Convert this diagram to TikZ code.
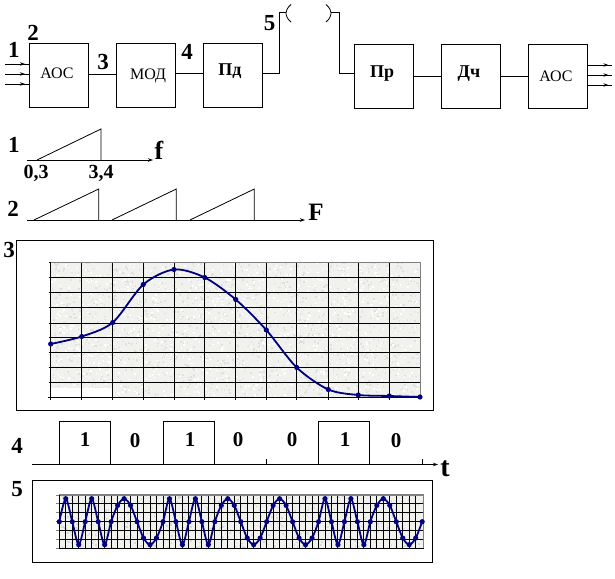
\documentclass[tikz,border=0pt]{standalone}
\usepackage{fontspec}
\setmainfont{Liberation Serif}
\usetikzlibrary{arrows.meta,decorations.markings}
\definecolor{plotblue}{HTML}{000080}
\definecolor{paper}{HTML}{F1F1EE}
\tikzset{
  blockbox/.style={draw=black,line width=1pt,minimum width=59pt,minimum height=63pt,inner sep=0pt},
  plainname/.style={font=\fontsize{16}{16}\selectfont,inner sep=0pt},
  boldname/.style={font=\fontsize{18}{18}\selectfont\bfseries,inner sep=0pt},
  wire/.style={draw=black,line width=1pt},
  thin wire/.style={draw=black,line width=0.8pt},
  midarrow/.style={wire,postaction={decorate},decoration={markings,mark=at position 0.85 with {\arrow{Stealth[length=5pt,width=3.5pt]}}}},
  axisarrow/.style={wire,-{Stealth[length=5pt,width=3.5pt]}},
  numlabel/.style={font=\fontsize{23}{23}\selectfont\bfseries,inner sep=0pt},
  ticklabel/.style={font=\fontsize{20}{20}\selectfont\bfseries,inner sep=0pt},
  bitlabel/.style={font=\fontsize{21}{21}\selectfont\bfseries,inner sep=0pt},
  gridline/.style={draw=black,line width=0.9pt},
  curve/.style={draw=plotblue,line width=1.8pt},
  panel/.style={draw=black,line width=1pt},
}
\begin{document}
\begin{tikzpicture}[x=1pt,y=-1pt]
\useasboundingbox[fill=white] (0,0) rectangle (615,578);
% ---- block chain
\node[blockbox] (aos1) at (58.5,75.5) {};
\node[blockbox] (mod) at (145.5,75.5) {};
\node[blockbox] (pd) at (232.5,75.5) {};
\node[blockbox] (pr) at (384,76.5) {};
\node[blockbox] (dch) at (471,76.5) {};
\node[blockbox] (aos2) at (558,76.5) {};
\node[plainname] (aos1t) at (57,73) {АОС};
\node[plainname] (modt) at (148,76) {МОД};
\node[boldname] (pdt) at (230,71) {Пд};
\node[boldname] (prt) at (382,74) {Пр};
\node[boldname] (dcht) at (469,74) {Дч};
\node[plainname] (aos2t) at (556,76) {АОС};
\coordinate (i1) at (5,64); \coordinate (i2) at (5,74); \coordinate (i3) at (5,84);
\coordinate (o1) at (612,65); \coordinate (o2) at (612,75); \coordinate (o3) at (612,85);
\foreach \n in {i1,i2,i3} \draw[midarrow] (\n) -- (aos1.west |- \n);
\foreach \n in {o1,o2,o3} \draw[midarrow] (aos2.east |- \n) -- (\n);
\draw[wire] (aos1.east |- 0,74) -- (mod.west |- 0,74);
\draw[wire] (mod.east |- 0,73) -- (pd.west |- 0,73);
\coordinate (c1) at (279,73); \coordinate (antL) at (286,13);
\coordinate (antR) at (331,13); \coordinate (c2) at (339.5,73);
\draw[wire] (pd.east |- c1) -- (c1) |- (antL);
\draw[wire] (antR) -| (c2) -- (pr.west |- c2);
\draw[wire] (pr.east |- 0,76) -- (dch.west |- 0,76);
\draw[wire] (dch.east |- 0,76) -- (aos2.west |- 0,76);
\draw[thin wire] (291,4.5) .. controls (287,8) and (286,11) .. (antL) .. controls (286,15) and (287,19) .. (291,22);
\draw[thin wire] (326,4.5) .. controls (330,8) and (331,11) .. (antR) .. controls (331,15) and (330,19) .. (326,22);
\node[numlabel] (n1) at (14,50) {1};
\node[numlabel] (n2) at (33,33) {2};
\node[numlabel] (n3) at (103,62) {3};
\node[numlabel] (n4) at (187,52) {4};
\node[numlabel] (n5) at (269.5,23.5) {5};
% ---- spectrum 1
\draw[axisarrow] (27,160) -- (153,160);
\draw[thin wire] (37,160) -- (101,129) -- (101,160);
\node[numlabel] (s1) at (14,145) {1};
\node[numlabel,font=\fontsize{26}{26}\selectfont\bfseries] (sf) at (159,150) {f};
\node[ticklabel] (l03) at (36,173) {0,3};
\node[ticklabel] (l34) at (101,173) {3,4};
% ---- spectrum 2
\draw[axisarrow] (27,220) -- (305,220);
\foreach \a/\b in {34/98.7,112/176.3,190/254.3}
  \draw[thin wire] (\a,220) -- (\b,189) -- (\b,220);
\node[numlabel] (s2) at (13,209) {2};
\node[numlabel,font=\fontsize{25}{25}\selectfont\bfseries] (sF) at (316,212) {F};
% ---- panel 3
\node[numlabel] (s3) at (9,250) {3};
\draw[panel] (16.5,240.5) rectangle (433,410);
\fill[paper] (50.7,262.3) rectangle (420,397.3);
\pgfmathsetseed{11}
\begin{scope}
\clip (50.7,262.3) rectangle (420,397.3);
\foreach \i in {1,...,1500}{
  \pgfmathsetmacro\px{50.7+369.3*rnd}\pgfmathsetmacro\py{262.3+135*rnd}
  \fill[black!12] (\px,\py) rectangle +(1.6,1.6);
}
\foreach \i in {1,...,1200}{
  \pgfmathsetmacro\px{50.7+369.3*rnd}\pgfmathsetmacro\py{262.3+135*rnd}
  \fill[white] (\px,\py) rectangle +(1.6,1.6);
}
\end{scope}
\fill[white] (51,388) rectangle (112.5,397);
\foreach \y in {277.3,292.3,307,323.3,337.3,352.3,367.3,382}
  \draw[gridline] (50.7,\y) -- (420,\y);
\foreach \x in {81.7,112.7,143.3,174,204.7,235.7,266.3,296.7,328.3,358.3,389.3}
  \draw[gridline] (\x,262.3) -- (\x,399.5);
\draw[gray,line width=1pt] (50.7,262.3) -- (420,262.3) -- (420,397.3);
\draw[gridline] (48,397.3) -- (420,397.3);
\draw[gridline] (50.7,262.3) -- (50.7,399.5);
\foreach \y in {262.3,277.3,292.3,307,323.3,337.3,352.3,367.3,382}
  \draw[gridline] (48.5,\y) -- (50.7,\y);
\foreach \k in {0,...,45}
  \draw[black,line width=0.6pt] (49.5,262.3+3*\k) -- (50.7,262.3+3*\k);
\draw[curve] plot[smooth,tension=0.5] coordinates {(50.7,344) (81.7,336.5) (112.7,322.5) (143.3,284.5) (174,269.5) (204.7,277.5) (235.7,299.5) (266.3,330) (296.7,367.5) (328.3,389.5) (358.3,395) (389.3,396) (420,397)};
\foreach \x/\y in {50.7/344,81.7/336.5,112.7/322.5,143.3/284.5,174/269.5,204.7/277.5,235.7/299.5,266.3/330,296.7/367.5,328.3/389.5,358.3/395,389.3/396,420/397}
  \fill[plotblue] (\x,\y) circle (2.6);
% ---- bit stream
\node[numlabel] (s4) at (17,446) {4};
\coordinate (b0) at (32,464.5); \coordinate (b1) at (438,464.5);
\draw[axisarrow] (b0) -- (b1);
\foreach \a/\b in {59.5/110.5,163.5/214.5,318.3/369.3}
  \draw[wire] (\a,464.5) -- (\a,421.5) -- (\b,421.5) -- (\b,464.5);
\draw[wire] (266.3,459) -- (266.3,464.5);
\draw[wire] (422.3,459) -- (422.3,464.5);
\node[bitlabel] (b10) at (85,440) {1};
\node[bitlabel] (b20) at (135,441) {0};
\node[bitlabel] (b30) at (190,440) {1};
\node[bitlabel] (b40) at (238,440) {0};
\node[bitlabel] (b50) at (292,440) {0};
\node[bitlabel] (b60) at (345,440) {1};
\node[bitlabel] (b70) at (396,441) {0};
\node[numlabel,font=\fontsize{28}{28}\selectfont\bfseries] (st) at (445,469) {t};
% ---- panel 5
\node[numlabel] (s5) at (17,489) {5};
\draw[panel] (32.5,480.5) rectangle (432.5,562);
\fill[paper] (59.3,495) rectangle (423.5,548.3);
\begin{scope}
\clip (59.3,495) rectangle (423.5,548.3);
\foreach \i in {1,...,500}{
  \pgfmathsetmacro\px{59.3+364*rnd}\pgfmathsetmacro\py{495+53*rnd}
  \fill[black!15] (\px,\py) rectangle +(1.6,1.6);
}
\end{scope}
\foreach \y in {503.7,512.7,521.7,530.3,539}
  \draw[gridline] (59.3,\y) -- (423.5,\y);
\foreach \k in {1,...,55}
  \draw[gridline] (59.3+6.48*\k,495) -- (59.3+6.48*\k,548.3);
\draw[gray,line width=1.2pt] (59.3,495) -- (423.5,495) -- (423.5,548.3);
\draw[gridline] (59.3,548.3) -- (423.5,548.3);
\draw[gridline] (59.3,495) -- (59.3,548.3);
\foreach \y in {495,503.7,512.7,521.7,530.3,539,548.3}
  \draw[gray,line width=0.8pt] (56,\y) -- (59.3,\y);
\def\wv{{0,1,0,-1,0,1,0,-1, 0,.71,1,.71,0,-.71,-1,-.71, 0,1,0,-1,0,1,0,-1, 0,.71,1,.71,0,-.71,-1,-.71, 0,.71,1,.71,0,-.71,-1,-.71, 0,1,0,-1,0,1,0,-1, 0,.71,1,.71,0,-.71,-1,-.71, 0}}
\draw[curve] plot[smooth,tension=0.5,samples at={0,...,56}] ({59.3+6.48*\x},{521.7-23*\wv[int(\x)]});
\foreach \k in {0,...,56}{
  \pgfmathsetmacro\vy{521.7-23*\wv[\k]}
  \fill[plotblue] (59.3+6.48*\k,\vy) circle (2.6);
}
\end{tikzpicture}
\end{document}
